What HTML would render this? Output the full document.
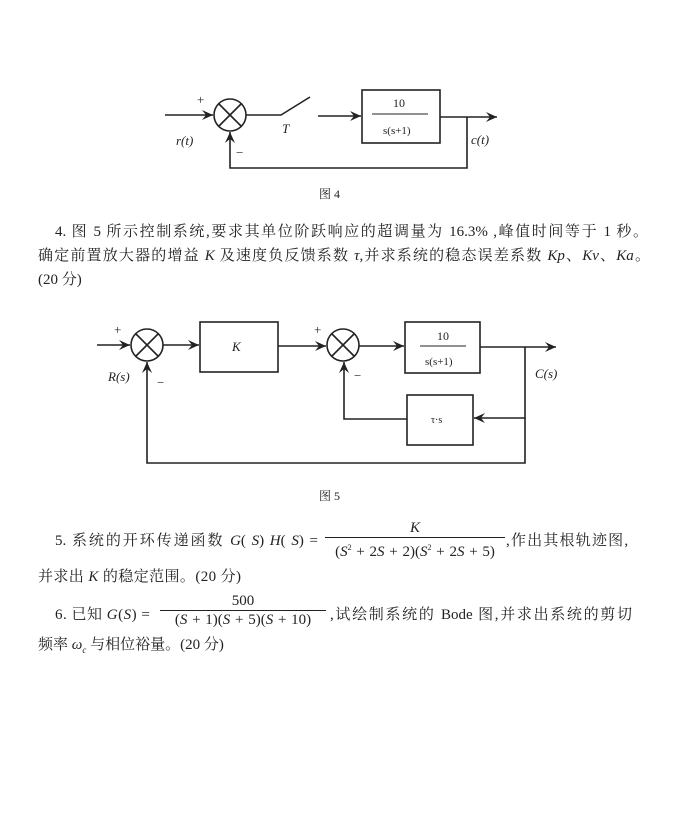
<!DOCTYPE html>
<html><head><meta charset="utf-8"><style>
body{margin:0;background:#fff;}
#c{position:relative;width:680px;height:834px;overflow:hidden;background:#fff;font-family:"Liberation Serif","Noto Serif CJK SC",serif;color:#222;}
.t{position:absolute;white-space:nowrap;font-size:15px;}
.j{position:absolute;font-size:15px;text-align:justify;text-align-last:justify;white-space:normal;height:20px;overflow:visible;}
svg{position:absolute;left:0;top:0;}
svg text{font-family:"Liberation Serif","Noto Serif CJK SC",serif;fill:#222;}
.fr{position:absolute;text-align:center;font-size:15px;}
.fr .n{border-bottom:1px solid #222;padding:0 2px;line-height:17px;}
.fr .d{line-height:19px;word-spacing:1px;}
</style></head><body><div id="c">
<svg width="680" height="834" viewBox="0 0 680 834">
<defs><marker id="a" markerWidth="12" markerHeight="10" refX="11" refY="5" orient="auto" markerUnits="userSpaceOnUse"><path d="M0,0 L11,5 L0,10 L4,5 Z" fill="#222"/></marker></defs>
<g stroke="#222" stroke-width="1.6" fill="none">
<line x1="165" y1="115" x2="213" y2="115" marker-end="url(#a)"/>
<circle cx="230" cy="115" r="16"/>
<line x1="219" y1="104" x2="241" y2="126"/><line x1="241" y1="104" x2="219" y2="126"/>
<polyline points="246,115 281,115 310,97"/>
<line x1="318" y1="116" x2="361" y2="116" marker-end="url(#a)"/>
<rect x="362" y="90" width="78" height="53"/>
<line x1="372" y1="114" x2="428" y2="114" stroke-width="1"/>
<line x1="440" y1="117" x2="497" y2="117" marker-end="url(#a)"/>
<polyline points="467,117 467,168 230,168 230,132" marker-end="url(#a)"/>
<line x1="97" y1="345" x2="130" y2="345" marker-end="url(#a)"/>
<circle cx="147" cy="345" r="16"/>
<line x1="136" y1="334" x2="158" y2="356"/><line x1="158" y1="334" x2="136" y2="356"/>
<line x1="163" y1="345" x2="199" y2="345" marker-end="url(#a)"/>
<rect x="200" y="322" width="78" height="50"/>
<line x1="278" y1="346" x2="326" y2="346" marker-end="url(#a)"/>
<circle cx="343" cy="345" r="16"/>
<line x1="332" y1="334" x2="354" y2="356"/><line x1="354" y1="334" x2="332" y2="356"/>
<line x1="359" y1="346" x2="404" y2="346" marker-end="url(#a)"/>
<rect x="405" y="322" width="75" height="51"/>
<line x1="420" y1="346" x2="466" y2="346" stroke-width="1"/>
<line x1="480" y1="347" x2="556" y2="347" marker-end="url(#a)"/>
<polyline points="525,347 525,418 474,418" marker-end="url(#a)"/>
<rect x="407" y="395" width="66" height="50"/>
<polyline points="407,419 344,419 344,362" marker-end="url(#a)"/>
<polyline points="525,418 525,463 147,463 147,362" marker-end="url(#a)"/>
</g>
<g font-size="13">
<text x="197" y="104">+</text>
<text x="236" y="157">−</text>
<text x="176" y="145" font-style="italic">r(t)</text>
<text x="282" y="133" font-style="italic">T</text>
<text x="393" y="107" font-size="12">10</text>
<text x="383" y="134" font-size="11">s(s+1)</text>
<text x="471" y="144" font-style="italic">c(t)</text>
<text x="319" y="198" font-size="12" font-family="Noto Serif CJK SC">图 4</text>
<text x="114" y="334">+</text>
<text x="314" y="334">+</text>
<text x="157" y="387">−</text>
<text x="354" y="380">−</text>
<text x="108" y="381" font-style="italic">R(s)</text>
<text x="232" y="351" font-style="italic">K</text>
<text x="437" y="340" font-size="12">10</text>
<text x="425" y="365" font-size="11">s(s+1)</text>
<text x="431" y="423" font-size="10">τ·s</text>
<text x="535" y="378" font-style="italic">C(s)</text>
<text x="319" y="500" font-size="12" font-family="Noto Serif CJK SC">图 5</text>
</g>
</svg>
<div class="j" style="left:55px;top:220px;width:593px">4. 图 5 所示控制系统,要求其单位阶跃响应的超调量为 16.3% ,峰值时间等于 1 秒。</div>
<div class="j" style="left:38px;top:244px;width:612px">确定前置放大器的增益 <i>K</i> 及速度负反馈系数 <i>τ</i>,并求系统的稳态误差系数 <i>Kp</i>、<i>Kv</i>、<i>Ka</i>。</div>
<div class="t" style="left:38px;top:268px">(20 分)</div>
<div class="j" style="left:55px;top:529px;width:263px">5. 系统的开环传递函数 <i>G</i>( <i>S</i>) <i>H</i>( <i>S</i>) =</div>
<div class="fr" style="left:325px;top:520px;width:180px"><div class="n"><i>K</i></div><div class="d">(<i>S</i><sup style="font-size:8px">2</sup> + 2<i>S</i> + 2)(<i>S</i><sup style="font-size:8px">2</sup> + 2<i>S</i> + 5)</div></div>
<div class="t" style="left:506px;top:529px;letter-spacing:1.2px">,作出其根轨迹图,</div>
<div class="t" style="left:38px;top:565px;letter-spacing:0.4px">并求出 <i>K</i> 的稳定范围。(20 分)</div>
<div class="t" style="left:55px;top:603px;letter-spacing:0.5px">6. 已知 <i>G</i>(<i>S</i>) =</div>
<div class="fr" style="left:160px;top:593px;width:166px"><div class="n">500</div><div class="d">(<i>S</i> + 1)(<i>S</i> + 5)(<i>S</i> + 10)</div></div>
<div class="j" style="left:330px;top:603px;width:302px">,试绘制系统的 Bode 图,并求出系统的剪切</div>
<div class="t" style="left:38px;top:633px">频率 <i>ω<sub style="font-size:9px">c</sub></i> 与相位裕量。(20 分)</div>
</div></body></html>
